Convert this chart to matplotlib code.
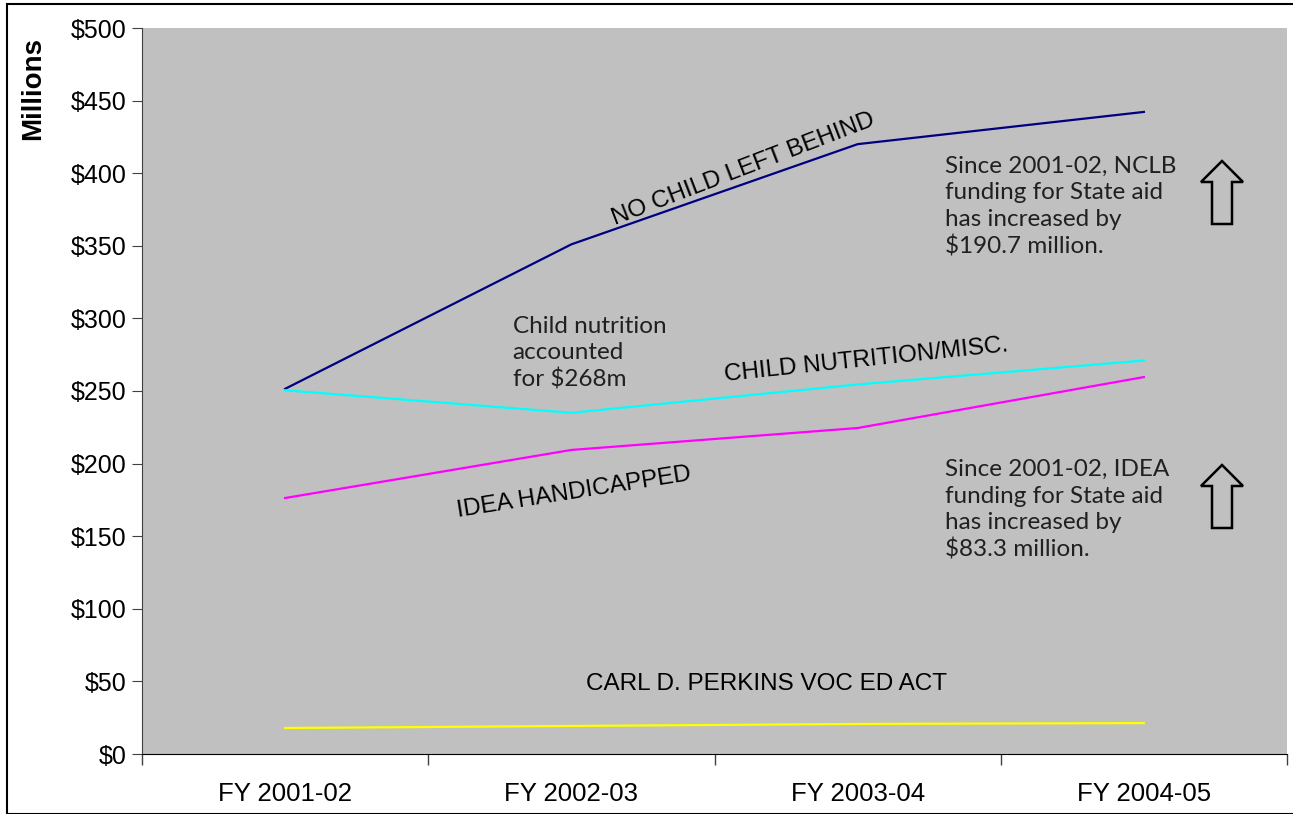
import matplotlib.pyplot as plt
from matplotlib.patches import Polygon, Rectangle
from matplotlib.ticker import FuncFormatter

years = ['FY 2001-02', 'FY 2002-03', 'FY 2003-04', 'FY 2004-05']
nclb = [251.5, 351.0, 420.0, 442.2]
nutrition = [250.5, 235.0, 254.5, 271.0]
idea = [176.3, 209.4, 224.5, 259.6]
perkins = [17.9, 19.3, 20.7, 21.3]

plt.rcParams['font.family'] = ['Liberation Sans', 'DejaVu Sans']
note_font = ['Lato', 'DejaVu Sans']


def main():
    fig = plt.figure(figsize=(12.93, 8.14), dpi=100)
    W, H = 1293, 814
    ax = fig.add_axes([142 / W, 1 - 754 / H, 1145 / W, 726 / H])
    ax.set_facecolor('#C0C0C0')

    x = range(len(years))
    ax.plot(x, nclb, color='#000080', lw=1.6)
    ax.plot(x, nutrition, color='#00FFFF', lw=1.6)
    ax.plot(x, idea, color='#FF00FF', lw=1.6)
    ax.plot(x, perkins, color='#FFFF00', lw=1.6)

    ax.set_xlim(-0.5, 3.5)
    ax.set_ylim(0, 500)
    ax.set_yticks(range(0, 501, 50))
    ax.yaxis.set_major_formatter(FuncFormatter(lambda v, p: '${:d}'.format(int(v))))
    ax.set_xticks([-0.5, 0.5, 1.5, 2.5, 3.5])
    ax.set_xticklabels([])
    ax.set_xticks(list(x), minor=True)
    ax.set_xticklabels(years, minor=True)
    ax.tick_params(axis='x', which='minor', length=0, pad=20, labelsize=18.5)
    ax.tick_params(axis='x', which='major', length=8, direction='out', width=1, color='#404040')
    ax.tick_params(axis='y', length=7, direction='out', labelsize=18, pad=4, color='#404040')
    for s in ['top', 'right']:
        ax.spines[s].set_visible(False)
    ax.spines['left'].set_color('#404040')
    ax.spines['bottom'].set_color('black')

    fig.text(33 / W, 1 - 88 / H, 'Millions', rotation=90, fontsize=20,
             fontweight='bold', ha='center', va='center')

    # series labels
    ax.text(1.6, 403, 'NO CHILD LEFT BEHIND', rotation=21, fontsize=17.5,
            ha='center', va='center')
    ax.text(2.03, 271, 'CHILD NUTRITION/MISC.', rotation=6, fontsize=17.5,
            ha='center', va='center')
    ax.text(1.01, 180, 'IDEA HANDICAPPED', rotation=9, fontsize=17.5,
            ha='center', va='center')
    ax.text(1.68, 48, 'CARL D. PERKINS VOC ED ACT', fontsize=17.5,
            ha='center', va='center')

    # notes
    note = dict(family=note_font, fontsize=17.5, ha='left', va='center',
                linespacing=1.32, color='#202020')
    ax.text(0.795, 276, 'Child nutrition\naccounted\nfor $268m', **note)
    ax.text(2.305, 377, 'Since 2001-02, NCLB\nfunding for State aid\nhas increased by\n$190.7 million.', **note)
    ax.text(2.305, 168, 'Since 2001-02, IDEA\nfunding for State aid\nhas increased by\n$83.3 million.', **note)

    # hollow up arrows
    for top in (161, 465):
        pts = [(1222, top), (1243, top + 21), (1232, top + 21), (1232, top + 63),
               (1212, top + 63), (1212, top + 21), (1201, top + 21)]
        pts = [(px / W, 1 - py / H) for px, py in pts]
        fig.patches.append(Polygon(pts, closed=True, fill=False, ec='black',
                                   lw=1.8, transform=fig.transFigure))

    fig.patches.append(Rectangle((7 / W, 0), 1.2, 1 - 4 / H, fill=False, ec='black',
                                 lw=1.5, transform=fig.transFigure))

    fig.savefig('out.png', dpi=100)


if __name__ == "__main__":
    main()
